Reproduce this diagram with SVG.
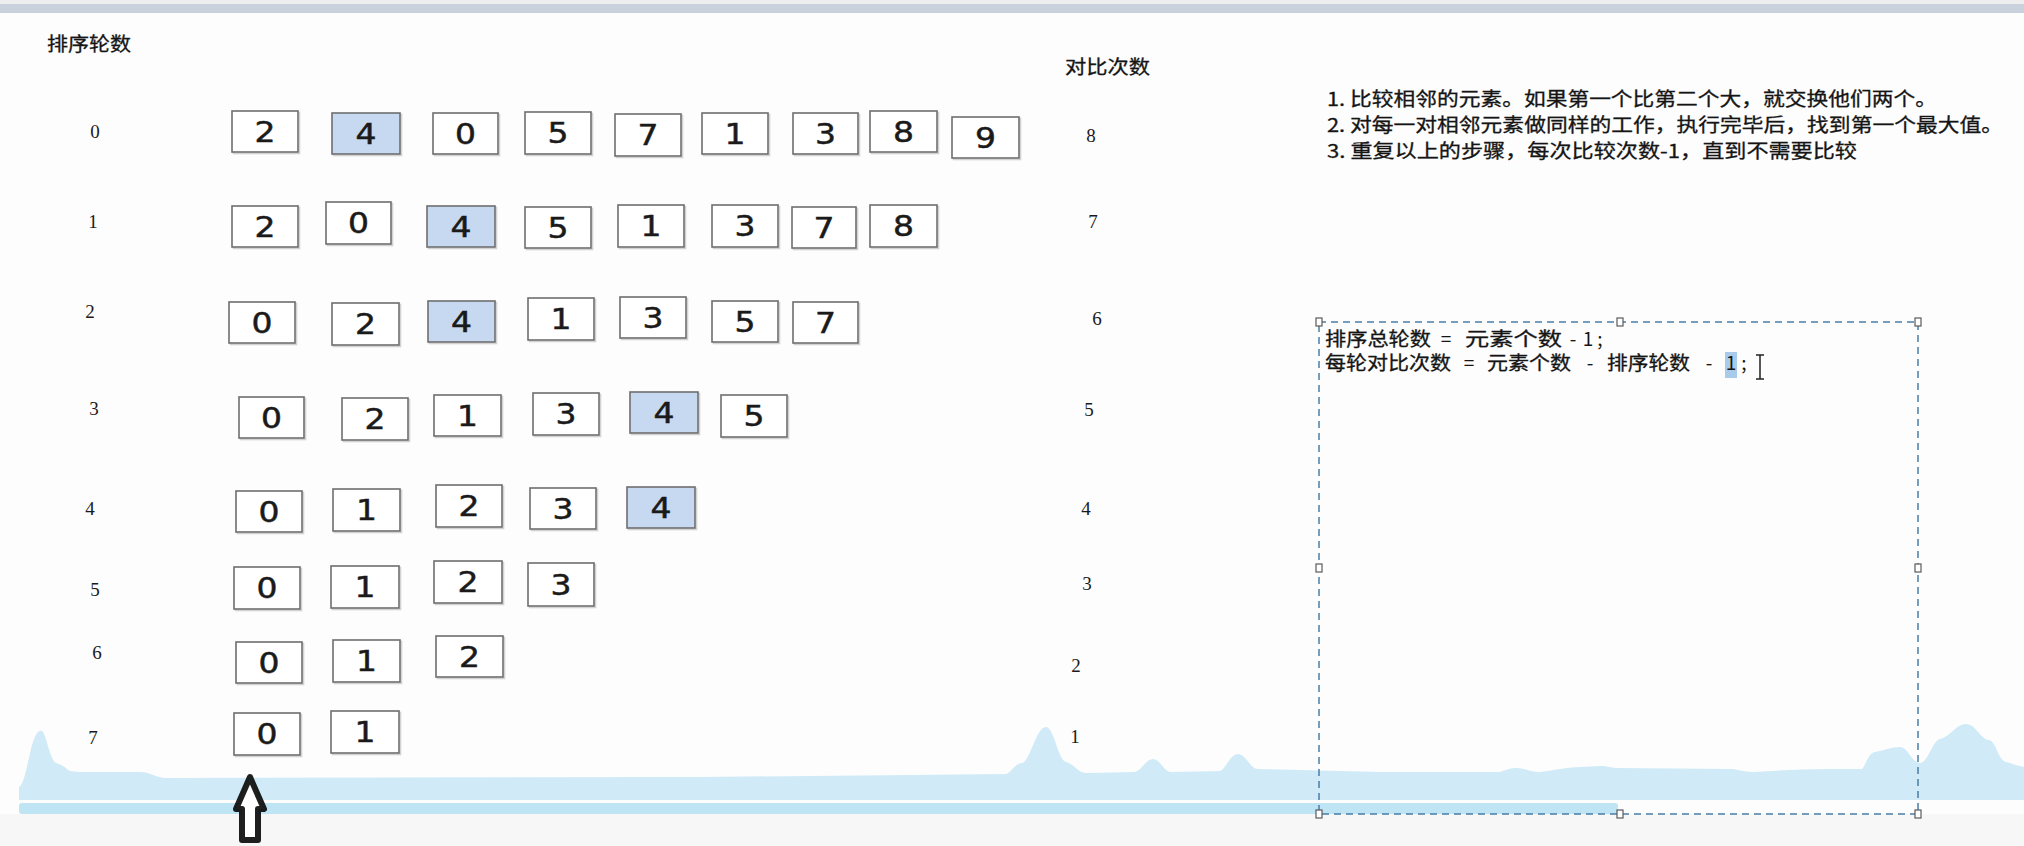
<svg xmlns="http://www.w3.org/2000/svg" width="2024" height="846" viewBox="0 0 2024 846">
<style>
.bx{fill:#ffffff;stroke:#6e6e6e;stroke-width:1.6}
.hl{fill:#c6d9f0;stroke:#6e6e6e;stroke-width:1.6}
.sh{fill:none;stroke:#d2d2d2;stroke-width:1.6}
.d{font-family:"DejaVu Sans","Liberation Sans",sans-serif;font-size:28px;fill:#1a1a1a;stroke:#1a1a1a;stroke-width:0.5;text-anchor:middle}
.n{font-family:"Liberation Serif","DejaVu Serif",serif;font-size:19px;fill:#1a1a1a;text-anchor:middle}
.cn{font-family:"Noto Sans CJK SC","Noto Sans",sans-serif;font-size:19px;fill:#151515;stroke:#151515;stroke-width:0.3}
.op{font-family:"Noto Sans CJK SC","Noto Sans",sans-serif;font-size:19px;fill:#151515;text-anchor:middle}
.hd{fill:#ffffff;stroke:#5a5a5a;stroke-width:1.2}
</style>
<rect x="0" y="0" width="2024" height="846" fill="#fdfdfd"/>
<rect x="0" y="0" width="2024" height="4" fill="#eeeeee"/>
<rect x="0" y="4" width="2024" height="9" fill="#c9d1dd"/>
<rect x="0" y="814" width="2024" height="32" fill="#f7f7f7"/>

<g id="labels">
<text class="cn" x="47" y="51" textLength="84" lengthAdjust="spacingAndGlyphs">排序轮数</text>
<text class="cn" x="1065" y="74" textLength="85" lengthAdjust="spacingAndGlyphs">对比次数</text>
<text class="n" x="95" y="138">0</text>
<text class="n" x="93" y="228">1</text>
<text class="n" x="90" y="318">2</text>
<text class="n" x="94" y="415">3</text>
<text class="n" x="90" y="515">4</text>
<text class="n" x="95" y="596">5</text>
<text class="n" x="97" y="659">6</text>
<text class="n" x="93" y="744">7</text>
<text class="n" x="1091" y="142">8</text>
<text class="n" x="1093" y="228">7</text>
<text class="n" x="1097" y="325">6</text>
<text class="n" x="1089" y="416">5</text>
<text class="n" x="1086" y="515">4</text>
<text class="n" x="1087" y="590">3</text>
<text class="n" x="1076" y="672">2</text>
<text class="n" x="1075" y="743">1</text>
</g>

<g id="rules">
<text class="cn" x="1327" y="106" textLength="610" lengthAdjust="spacingAndGlyphs">1. 比较相邻的元素。如果第一个比第二个大，就交换他们两个。</text>
<text class="cn" x="1327" y="132" textLength="676" lengthAdjust="spacingAndGlyphs">2. 对每一对相邻元素做同样的工作，执行完毕后，找到第一个最大值。</text>
<text class="cn" x="1327" y="158" textLength="530" lengthAdjust="spacingAndGlyphs">3. 重复以上的步骤，每次比较次数-1，直到不需要比较</text>
</g>

<g id="row0">
<g id="r0b0"><rect class="sh" x="233.5" y="112.5" width="66" height="41"/><rect class="bx" x="232" y="111" width="66" height="41"/><text class="d" x="265" y="141.5" textLength="21" lengthAdjust="spacingAndGlyphs">2</text></g>
<g id="r0b1"><rect class="sh" x="333.5" y="114.5" width="68" height="41"/><rect class="hl" x="332" y="113" width="68" height="41"/><text class="d" x="366" y="143.5" textLength="21" lengthAdjust="spacingAndGlyphs">4</text></g>
<g id="r0b2"><rect class="sh" x="434.5" y="114.5" width="65" height="41"/><rect class="bx" x="433" y="113" width="65" height="41"/><text class="d" x="465.5" y="143.5" textLength="21" lengthAdjust="spacingAndGlyphs">0</text></g>
<g id="r0b3"><rect class="sh" x="526.5" y="113.5" width="66" height="42"/><rect class="bx" x="525" y="112" width="66" height="42"/><text class="d" x="558" y="143" textLength="21" lengthAdjust="spacingAndGlyphs">5</text></g>
<g id="r0b4"><rect class="sh" x="616.5" y="115.5" width="66" height="42"/><rect class="bx" x="615" y="114" width="66" height="42"/><text class="d" x="648" y="145" textLength="21" lengthAdjust="spacingAndGlyphs">7</text></g>
<g id="r0b5"><rect class="sh" x="703.5" y="114.5" width="66" height="41"/><rect class="bx" x="702" y="113" width="66" height="41"/><text class="d" x="735" y="143.5" textLength="21" lengthAdjust="spacingAndGlyphs">1</text></g>
<g id="r0b6"><rect class="sh" x="794.5" y="114.5" width="65" height="41"/><rect class="bx" x="793" y="113" width="65" height="41"/><text class="d" x="825.5" y="143.5" textLength="21" lengthAdjust="spacingAndGlyphs">3</text></g>
<g id="r0b7"><rect class="sh" x="871.5" y="112.5" width="67" height="41"/><rect class="bx" x="870" y="111" width="67" height="41"/><text class="d" x="903.5" y="141.5" textLength="21" lengthAdjust="spacingAndGlyphs">8</text></g>
<g id="r0b8"><rect class="sh" x="953.5" y="118.5" width="67" height="41"/><rect class="bx" x="952" y="117" width="67" height="41"/><text class="d" x="985.5" y="147.5" textLength="21" lengthAdjust="spacingAndGlyphs">9</text></g>
</g>

<g id="row1">
<g id="r1b0"><rect class="sh" x="233.5" y="207.5" width="66" height="41"/><rect class="bx" x="232" y="206" width="66" height="41"/><text class="d" x="265" y="236.5" textLength="21" lengthAdjust="spacingAndGlyphs">2</text></g>
<g id="r1b1"><rect class="sh" x="327.5" y="203.5" width="65" height="42"/><rect class="bx" x="326" y="202" width="65" height="42"/><text class="d" x="358.5" y="233" textLength="21" lengthAdjust="spacingAndGlyphs">0</text></g>
<g id="r1b2"><rect class="sh" x="428.5" y="207.5" width="68" height="41"/><rect class="hl" x="427" y="206" width="68" height="41"/><text class="d" x="461" y="236.5" textLength="21" lengthAdjust="spacingAndGlyphs">4</text></g>
<g id="r1b3"><rect class="sh" x="526.5" y="208.5" width="66" height="41"/><rect class="bx" x="525" y="207" width="66" height="41"/><text class="d" x="558" y="237.5" textLength="21" lengthAdjust="spacingAndGlyphs">5</text></g>
<g id="r1b4"><rect class="sh" x="619.5" y="206.5" width="66" height="42"/><rect class="bx" x="618" y="205" width="66" height="42"/><text class="d" x="651" y="236" textLength="21" lengthAdjust="spacingAndGlyphs">1</text></g>
<g id="r1b5"><rect class="sh" x="713.5" y="206.5" width="66" height="42"/><rect class="bx" x="712" y="205" width="66" height="42"/><text class="d" x="745" y="236" textLength="21" lengthAdjust="spacingAndGlyphs">3</text></g>
<g id="r1b6"><rect class="sh" x="793.5" y="208.5" width="64" height="41"/><rect class="bx" x="792" y="207" width="64" height="41"/><text class="d" x="824" y="237.5" textLength="21" lengthAdjust="spacingAndGlyphs">7</text></g>
<g id="r1b7"><rect class="sh" x="871.5" y="206.5" width="67" height="42"/><rect class="bx" x="870" y="205" width="67" height="42"/><text class="d" x="903.5" y="236" textLength="21" lengthAdjust="spacingAndGlyphs">8</text></g>
</g>

<g id="row2">
<g id="r2b0"><rect class="sh" x="230.5" y="303.5" width="66" height="41"/><rect class="bx" x="229" y="302" width="66" height="41"/><text class="d" x="262" y="332.5" textLength="21" lengthAdjust="spacingAndGlyphs">0</text></g>
<g id="r2b1"><rect class="sh" x="333.5" y="304.5" width="67" height="42"/><rect class="bx" x="332" y="303" width="67" height="42"/><text class="d" x="365.5" y="334" textLength="21" lengthAdjust="spacingAndGlyphs">2</text></g>
<g id="r2b2"><rect class="sh" x="429.5" y="302.5" width="67" height="41"/><rect class="hl" x="428" y="301" width="67" height="41"/><text class="d" x="461.5" y="331.5" textLength="21" lengthAdjust="spacingAndGlyphs">4</text></g>
<g id="r2b3"><rect class="sh" x="529.5" y="299.5" width="66" height="42"/><rect class="bx" x="528" y="298" width="66" height="42"/><text class="d" x="561" y="329" textLength="21" lengthAdjust="spacingAndGlyphs">1</text></g>
<g id="r2b4"><rect class="sh" x="621.5" y="298.5" width="66" height="41"/><rect class="bx" x="620" y="297" width="66" height="41"/><text class="d" x="653" y="327.5" textLength="21" lengthAdjust="spacingAndGlyphs">3</text></g>
<g id="r2b5"><rect class="sh" x="713.5" y="302.5" width="66" height="41"/><rect class="bx" x="712" y="301" width="66" height="41"/><text class="d" x="745" y="331.5" textLength="21" lengthAdjust="spacingAndGlyphs">5</text></g>
<g id="r2b6"><rect class="sh" x="794.5" y="303.5" width="65" height="41"/><rect class="bx" x="793" y="302" width="65" height="41"/><text class="d" x="825.5" y="332.5" textLength="21" lengthAdjust="spacingAndGlyphs">7</text></g>
</g>

<g id="row3">
<g id="r3b0"><rect class="sh" x="240.5" y="398.5" width="65" height="41"/><rect class="bx" x="239" y="397" width="65" height="41"/><text class="d" x="271.5" y="427.5" textLength="21" lengthAdjust="spacingAndGlyphs">0</text></g>
<g id="r3b1"><rect class="sh" x="343.5" y="399.5" width="66" height="42"/><rect class="bx" x="342" y="398" width="66" height="42"/><text class="d" x="375" y="429" textLength="21" lengthAdjust="spacingAndGlyphs">2</text></g>
<g id="r3b2"><rect class="sh" x="435.5" y="396.5" width="67" height="41"/><rect class="bx" x="434" y="395" width="67" height="41"/><text class="d" x="467.5" y="425.5" textLength="21" lengthAdjust="spacingAndGlyphs">1</text></g>
<g id="r3b3"><rect class="sh" x="534.5" y="394.5" width="66" height="42"/><rect class="bx" x="533" y="393" width="66" height="42"/><text class="d" x="566" y="424" textLength="21" lengthAdjust="spacingAndGlyphs">3</text></g>
<g id="r3b4"><rect class="sh" x="631.5" y="393.5" width="68" height="41"/><rect class="hl" x="630" y="392" width="68" height="41"/><text class="d" x="664" y="422.5" textLength="21" lengthAdjust="spacingAndGlyphs">4</text></g>
<g id="r3b5"><rect class="sh" x="722.5" y="396.5" width="66" height="42"/><rect class="bx" x="721" y="395" width="66" height="42"/><text class="d" x="754" y="426" textLength="21" lengthAdjust="spacingAndGlyphs">5</text></g>
</g>

<g id="row4">
<g id="r4b0"><rect class="sh" x="237.5" y="492.5" width="66" height="41"/><rect class="bx" x="236" y="491" width="66" height="41"/><text class="d" x="269" y="521.5" textLength="21" lengthAdjust="spacingAndGlyphs">0</text></g>
<g id="r4b1"><rect class="sh" x="334.5" y="490.5" width="67" height="42"/><rect class="bx" x="333" y="489" width="67" height="42"/><text class="d" x="366.5" y="520" textLength="21" lengthAdjust="spacingAndGlyphs">1</text></g>
<g id="r4b2"><rect class="sh" x="437.5" y="486.5" width="66" height="42"/><rect class="bx" x="436" y="485" width="66" height="42"/><text class="d" x="469" y="516" textLength="21" lengthAdjust="spacingAndGlyphs">2</text></g>
<g id="r4b3"><rect class="sh" x="531.5" y="489.5" width="66" height="41"/><rect class="bx" x="530" y="488" width="66" height="41"/><text class="d" x="563" y="518.5" textLength="21" lengthAdjust="spacingAndGlyphs">3</text></g>
<g id="r4b4"><rect class="sh" x="628.5" y="488.5" width="68" height="41"/><rect class="hl" x="627" y="487" width="68" height="41"/><text class="d" x="661" y="517.5" textLength="21" lengthAdjust="spacingAndGlyphs">4</text></g>
</g>

<g id="row5">
<g id="r5b0"><rect class="sh" x="235.5" y="568.5" width="66" height="42"/><rect class="bx" x="234" y="567" width="66" height="42"/><text class="d" x="267" y="598" textLength="21" lengthAdjust="spacingAndGlyphs">0</text></g>
<g id="r5b1"><rect class="sh" x="332.5" y="567.5" width="68" height="42"/><rect class="bx" x="331" y="566" width="68" height="42"/><text class="d" x="365" y="597" textLength="21" lengthAdjust="spacingAndGlyphs">1</text></g>
<g id="r5b2"><rect class="sh" x="435.5" y="562.5" width="68" height="42"/><rect class="bx" x="434" y="561" width="68" height="42"/><text class="d" x="468" y="592" textLength="21" lengthAdjust="spacingAndGlyphs">2</text></g>
<g id="r5b3"><rect class="sh" x="529.5" y="564.5" width="66" height="43"/><rect class="bx" x="528" y="563" width="66" height="43"/><text class="d" x="561" y="594.5" textLength="21" lengthAdjust="spacingAndGlyphs">3</text></g>
</g>

<g id="row6">
<g id="r6b0"><rect class="sh" x="237.5" y="643.5" width="66" height="41"/><rect class="bx" x="236" y="642" width="66" height="41"/><text class="d" x="269" y="672.5" textLength="21" lengthAdjust="spacingAndGlyphs">0</text></g>
<g id="r6b1"><rect class="sh" x="334.5" y="641.5" width="67" height="42"/><rect class="bx" x="333" y="640" width="67" height="42"/><text class="d" x="366.5" y="671" textLength="21" lengthAdjust="spacingAndGlyphs">1</text></g>
<g id="r6b2"><rect class="sh" x="437.5" y="637.5" width="67" height="41"/><rect class="bx" x="436" y="636" width="67" height="41"/><text class="d" x="469.5" y="666.5" textLength="21" lengthAdjust="spacingAndGlyphs">2</text></g>
</g>

<g id="row7">
<g id="r7b0"><rect class="sh" x="235.5" y="714.5" width="66" height="42"/><rect class="bx" x="234" y="713" width="66" height="42"/><text class="d" x="267" y="744" textLength="21" lengthAdjust="spacingAndGlyphs">0</text></g>
<g id="r7b1"><rect class="sh" x="332.5" y="712.5" width="68" height="42"/><rect class="bx" x="331" y="711" width="68" height="42"/><text class="d" x="365" y="742" textLength="21" lengthAdjust="spacingAndGlyphs">1</text></g>
</g>

<g id="waveform">
<path fill="#d0ebf7" d="M19,800 L19,787 C24,786 28,760 32,745 C36,732 39,730 42,731 C46,733 50,760 56,763 C60,764 64,766 68,770 C72,772 80,772 90,772 L140,772 C150,772 155,777 165,778 L700,777 L1006,774 C1012,772 1014,764 1022,763 C1030,762 1036,727 1046,727 C1054,727 1058,760 1066,762 C1074,764 1078,773 1086,773 L1135,772 C1142,770 1146,759 1153,759 C1160,759 1164,772 1171,772 L1220,771 C1226,769 1230,754 1238,754 C1246,754 1250,769 1258,769 L1380,772 L1500,772 C1506,770 1510,768 1517,768 C1524,768 1530,772 1540,772 C1555,770 1570,767 1580,767 L1601,766 C1608,766 1612,768 1618,768 L1733,769 C1740,770 1746,772 1754,772 C1770,771 1800,769 1826,769 L1862,769 C1866,765 1868,753 1875,752 C1885,750 1892,747 1900,747 C1908,747 1912,763 1920,763 C1928,763 1932,741 1940,739 C1950,737 1956,724 1966,724 C1976,724 1980,739 1989,740 C1996,741 1998,760 2006,762 C2014,764 2018,766 2024,767 L2024,800 Z"/>
<rect x="19" y="803" width="1599" height="11" rx="3" fill="#bfe4f4"/>
</g>

<g id="formula-box">
<rect x="1725" y="352" width="12" height="26" fill="#a9cbeb"/>
<text class="cn" x="1325" y="346" textLength="106" lengthAdjust="spacingAndGlyphs">排序总轮数</text>
<text class="op" x="1446" y="346">=</text>
<text class="cn" x="1465" y="346" textLength="97" lengthAdjust="spacingAndGlyphs">元素个数</text>
<text class="op" x="1573" y="346">-</text>
<text class="op" x="1588" y="346">1</text>
<text class="op" x="1600" y="346">;</text>
<text class="cn" x="1325" y="370" textLength="126" lengthAdjust="spacingAndGlyphs">每轮对比次数</text>
<text class="op" x="1469" y="370">=</text>
<text class="cn" x="1487" y="370" textLength="84" lengthAdjust="spacingAndGlyphs">元素个数</text>
<text class="op" x="1590" y="370">-</text>
<text class="cn" x="1607" y="370" textLength="83" lengthAdjust="spacingAndGlyphs">排序轮数</text>
<text class="op" x="1709" y="370">-</text>
<text class="op" x="1731" y="370">1</text>
<text class="op" x="1744" y="370">;</text>
<path d="M1756,355 H1764 M1760,355 V379 M1756,379 H1764" stroke="#222" stroke-width="1.5" fill="none"/>
<rect x="1319" y="322" width="599" height="492" fill="none" stroke="#4a7ea6" stroke-width="1.5" stroke-dasharray="7 5"/>
<rect class="hd" x="1316" y="318" width="6" height="8"/>
<rect class="hd" x="1617" y="318" width="6" height="8"/>
<rect class="hd" x="1915" y="318" width="6" height="8"/>
<rect class="hd" x="1316" y="564" width="6" height="8"/>
<rect class="hd" x="1915" y="564" width="6" height="8"/>
<rect class="hd" x="1316" y="810" width="6" height="8"/>
<rect class="hd" x="1617" y="810" width="6" height="8"/>
<rect class="hd" x="1915" y="810" width="6" height="8"/>
</g>

<g id="pointer">
<path d="M250,777 L264,809 L258,809 L258,840 L242,840 L242,809 L236,809 Z" fill="#ffffff" stroke="#000" stroke-opacity="0.88" stroke-width="6" stroke-linejoin="round"/>
</g>
</svg>
